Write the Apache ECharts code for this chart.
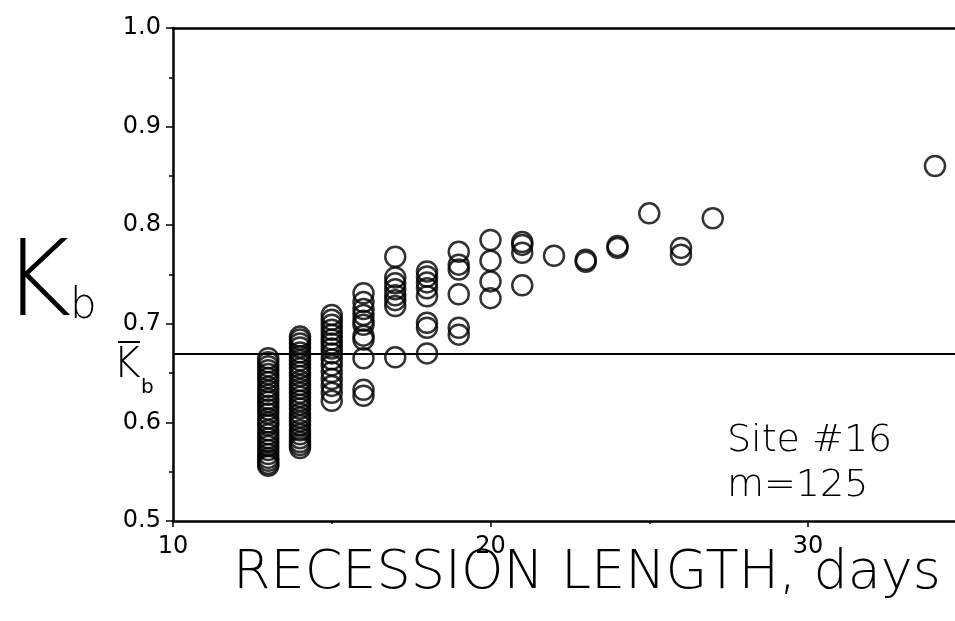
<!DOCTYPE html>
<html>
<head>
<meta charset="utf-8">
<script src="https://cdn.jsdelivr.net/npm/echarts@6/dist/echarts.min.js"></script>
<style>html,body{margin:0;padding:0;background:#fff}#c{width:955px;height:621px}</style>
</head>
<body>
<div id="c"></div>
<script>
// Recession length (days) and Kb values, one array per day column
const days = [13, 14, 15, 16, 17, 18, 19, 20, 21, 22, 23, 24, 25, 26, 27, 34];
const kb13 = [0.665, 0.661, 0.657, 0.653, 0.649, 0.645, 0.641, 0.636, 0.632, 0.628, 0.624, 0.621, 0.617, 0.613, 0.609, 0.604, 0.600, 0.597, 0.592, 0.588, 0.584, 0.580, 0.576, 0.572, 0.568, 0.564, 0.561, 0.558, 0.556];
const kb14 = [0.687, 0.684, 0.680, 0.676, 0.671, 0.667, 0.663, 0.659, 0.655, 0.651, 0.647, 0.642, 0.638, 0.634, 0.630, 0.626, 0.622, 0.618, 0.614, 0.609, 0.605, 0.601, 0.597, 0.592, 0.588, 0.584, 0.580, 0.577, 0.574];
const kb15 = [0.709, 0.704, 0.699, 0.694, 0.689, 0.684, 0.680, 0.675, 0.670, 0.664, 0.658, 0.651, 0.644, 0.637, 0.630, 0.622];
const kb16 = [0.731, 0.722, 0.715, 0.709, 0.703, 0.699, 0.688, 0.684, 0.665, 0.633, 0.627];
const kb17 = [0.768, 0.747, 0.741, 0.735, 0.729, 0.724, 0.718, 0.666];
const kb18 = [0.753, 0.748, 0.742, 0.736, 0.728, 0.701, 0.696, 0.670];
const kb19 = [0.773, 0.760, 0.755, 0.730, 0.696, 0.689];
const kb20 = [0.785, 0.764, 0.743, 0.726];
const kb21 = [0.783, 0.780, 0.772, 0.739];
const kb22 = [0.769];
const kb23 = [0.763, 0.765];
const kb24 = [0.779, 0.777];
const kb25 = [0.812];
const kb26 = [0.777, 0.770];
const kb27 = [0.807];
const kb34 = [0.860];
const kbColumns = [kb13, kb14, kb15, kb16, kb17, kb18, kb19, kb20, kb21, kb22, kb23, kb24, kb25, kb26, kb27, kb34];
const kbMean = 0.667;
const xTicks = [10, 20, 30];
const yTicks = [0.5, 0.6, 0.7, 0.8, 0.9, 1.0];

const points = [];
days.forEach((d, i) => kbColumns[i].forEach(v => points.push([d, v])));

const FONT = 'DejaVu Sans';
const chart = echarts.init(document.getElementById('c'), null, {renderer: 'canvas'});
chart.setOption({
  backgroundColor: '#ffffff',
  animation: false,
  grid: {left: 173, width: 952.5, top: 28, height: 493, show: false, containLabel: false, outerBoundsMode: 'none'},
  xAxis: [{
    type: 'value', min: 10, max: 40, interval: 10,
    axisLine: {show: true, lineStyle: {color: '#000', width: 2.5}},
    axisTick: {show: true, length: 6, lineStyle: {color: '#000', width: 1.5}},
    minorTick: {show: true, splitNumber: 2, length: 3, lineStyle: {color: '#000', width: 1.5}},
    axisLabel: {color: '#000', fontFamily: FONT, fontSize: 24, margin: 14,
      formatter: v => xTicks.indexOf(v) >= 0 ? String(v) : ''},
    splitLine: {show: false}
  }, {
    type: 'value', position: 'top', min: 10, max: 40,
    axisLine: {show: true, onZero: false, lineStyle: {color: '#000', width: 2.5}},
    axisTick: {show: false}, axisLabel: {show: false}, splitLine: {show: false}
  }],
  yAxis: {
    type: 'value', min: 0.5, max: 1.0, interval: 0.1,
    axisLine: {show: true, lineStyle: {color: '#000', width: 2.5}},
    axisTick: {show: true, length: 7, lineStyle: {color: '#000', width: 1.5}},
    minorTick: {show: true, splitNumber: 2, length: 4, lineStyle: {color: '#000', width: 1.5}},
    axisLabel: {color: '#000', fontFamily: FONT, fontSize: 24, margin: 12,
      formatter: v => {
        const hit = yTicks.find(t => Math.abs(t - v) < 1e-9);
        return hit !== undefined ? hit.toFixed(1) : '';
      }},
    splitLine: {show: false}
  },
  series: [{
    type: 'scatter',
    data: points,
    symbol: 'circle',
    symbolSize: 20,
    itemStyle: {color: 'rgba(0,0,0,0)', borderColor: '#000', borderWidth: 2.5},
    markLine: {
      silent: true, symbol: 'none', label: {show: false},
      lineStyle: {color: '#000', width: 2, type: 'solid'},
      data: [{yAxis: kbMean}]
    }
  }],
  graphic: [
    {type: 'text', left: 2, top: 234, style: {text: 'K', font: '200 106px "DejaVu Sans"', fill: '#000'}},
    {type: 'text', left: 70, top: 286, style: {text: 'b', font: '200 42px "DejaVu Sans"', fill: '#000'}},
    {type: 'text', left: 113, top: 345, style: {text: 'K', font: '200 42px "DejaVu Sans"', fill: '#000'}},
    {type: 'rect', shape: {x: 118, y: 341, width: 22, height: 2}, style: {fill: '#000'}},
    {type: 'text', left: 141, top: 378, style: {text: 'b', font: '20px "DejaVu Sans"', fill: '#000'}},
    {type: 'text', left: 727, top: 422, style: {text: 'Site #16', font: '200 38px "DejaVu Sans"', fill: '#000'}},
    {type: 'text', left: 727, top: 467, style: {text: 'm=125', font: '200 38px "DejaVu Sans"', fill: '#000'}},
    {type: 'text', left: 233, top: 547, style: {text: 'RECESSION LENGTH, days', font: '200 54px "DejaVu Sans"', fill: '#000'}}
  ]
});
</script>
</body>
</html>
